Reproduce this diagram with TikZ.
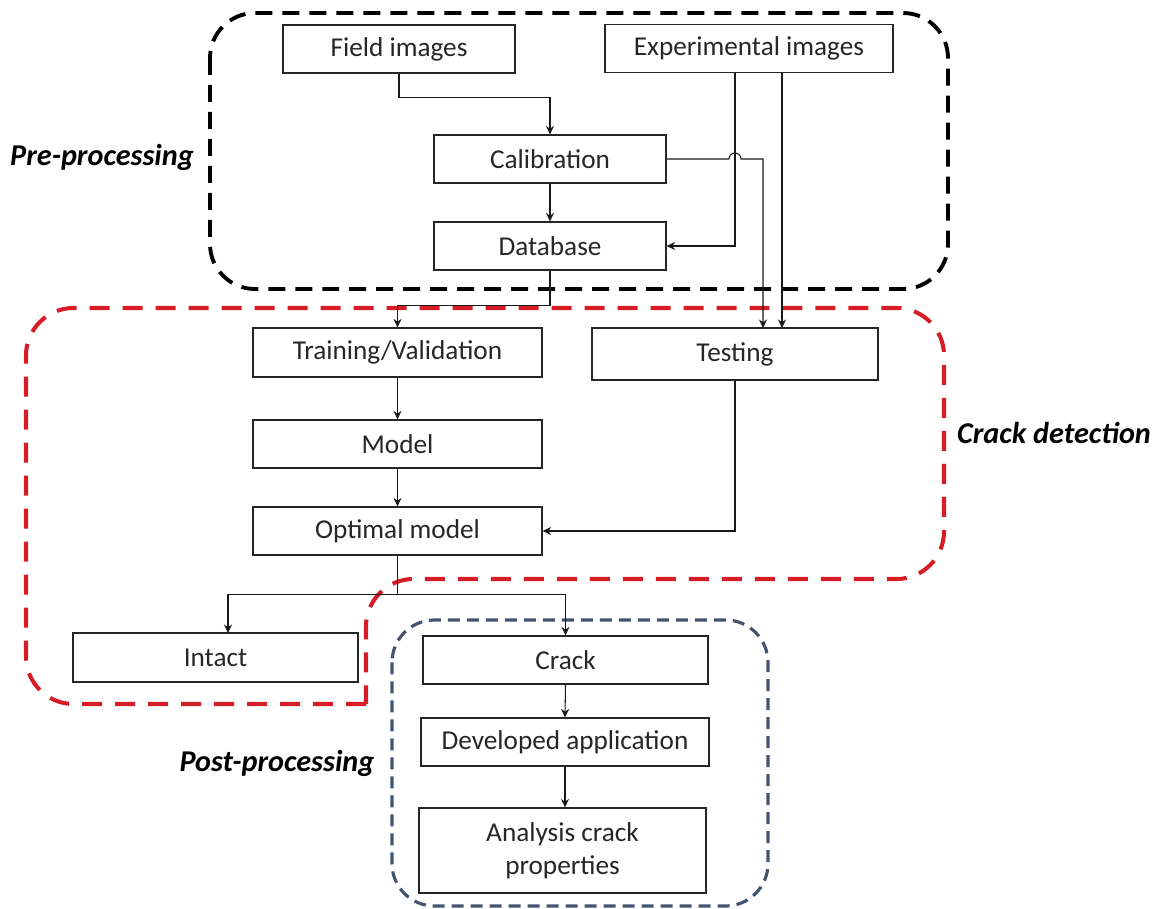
\documentclass[tikz,border=0pt]{standalone}
\usepackage{fontspec}
\setmainfont{Carlito}
\usetikzlibrary{arrows.meta}
\definecolor{crackred}{RGB}{214,28,36}
\definecolor{postblue}{RGB}{68,84,112}
\tikzset{
    every node/.style={font=\fontsize{15.5}{19}\selectfont, text=black!85}
}
\tikzset{
    box/.style={draw=black!85, line width=0.7pt, minimum height=0.96cm,
    	align=center, inner sep=2pt}
}
\tikzset{
    arr/.style={draw=black!90, line width=0.6pt,
    	-{Stealth[length=1.7mm, width=1.6mm]}},
    stage/.style={font=\fontsize{17.2}{20}\selectfont\bfseries\itshape, text=black}
}
\tikzset{
    preline/.style={draw=black, line width=2.2pt, dash pattern=on 0.34cm off 0.2cm,
    	rounded corners=0.9cm},
    crackline/.style={draw=crackred, line width=2.3pt, dash pattern=on 0.4cm off 0.26cm,
    	rounded corners=0.95cm},
    postline/.style={draw=postblue, line width=1.8pt, dash pattern=on 0.24cm off 0.14cm,
    	rounded corners=0.85cm}
}

\begin{document}
\begin{tikzpicture}[x=0.02cm, y=-0.02cm]
	\useasboundingbox (0,0) rectangle (1161,909);

	\draw[preline] (210,13) rectangle (948,289);
	\draw[crackline] (366,704) -- (26,704) -- (26,308) -- (944,308)
		-- (944,579) -- (366,579) -- (366,704);
	\draw[postline] (392,620) rectangle (768,906);

	\node (pre) [stage] at (102,157) {Pre-processing};
	\node (det) [stage] at (1054,433) {Crack detection};
	\node (post) [stage] at (277,763) {Post-processing};

	\node (field) [box, minimum width=4.64cm] at (399,49) {Field images};
	\node (exp) [box, minimum width=5.76cm] at (749,48.5) {Experimental images};
	\node (calib) [box, minimum width=4.64cm] at (550,159) {Calibration};
	\node (db) [box, minimum width=4.64cm] at (550,246) {Database};
	\node (train) [box, minimum width=5.78cm, minimum height=0.98cm] at (397.5,352.5) {Training/Validation};
	\node (test) [box, minimum width=5.72cm, minimum height=1.04cm] at (735,354) {Testing};
	\node (model) [box, minimum width=5.78cm] at (397.5,444) {Model};
	\node (opt) [box, minimum width=5.78cm] at (397.5,531) {Optimal model};
	\node (intact) [box, minimum width=5.7cm, minimum height=0.98cm] at (215.5,657.5) {Intact};
	\node (crack) [box, minimum width=5.7cm] at (565.5,660) {Crack};
	\node (dev) [box, minimum width=5.76cm] at (565,742) {Developed application};
	\node (anal) [box, minimum width=5.74cm, minimum height=1.7cm] at (562.5,850.5) {Analysis crack\\properties};

	\coordinate (expA) at (735,73);
	\coordinate (expB) at (782,73);
	\coordinate (testA) at (763,328);
	\coordinate (testB) at (782,328);
	\coordinate (jump) at (729,159);
	\coordinate (intactA) at (228,633);

	\draw[arr] (field.south) -- ++(0,24) -| (calib.north);
	\draw[arr] (calib) -- (db);
	\draw[arr] (expA) |- (db.east);
	\draw[arr] (expB) -- (testB);
	\draw[arr] (calib.east) -- (jump) arc[start angle=180, end angle=360, radius=6] -| (testA);
	\draw[arr] (db.south) -- ++(0,35) -| (train.north);
	\draw[arr] (train) -- (model);
	\draw[arr] (model) -- (opt);
	\draw[arr] (test.south) |- (opt.east);
	\draw[arr] (opt.south) -- ++(0,39) coordinate (split) -| (intactA);
	\draw[arr] (split) -| (crack.north);
	\draw[arr] (crack.south) -- (dev.north);
	\draw[arr] (dev.south) -- (dev.south |- anal.north);
\end{tikzpicture}
\end{document}
